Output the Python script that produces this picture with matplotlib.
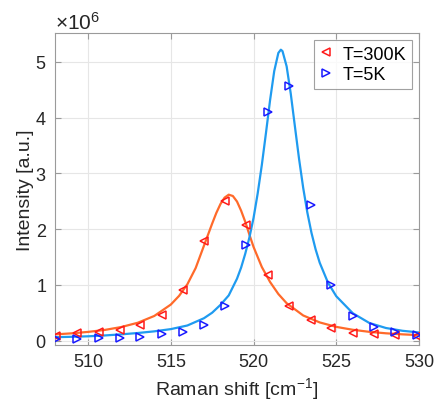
import numpy as np
import matplotlib
matplotlib.use('Agg')
import matplotlib.pyplot as plt
from matplotlib.ticker import ScalarFormatter

plt.rcParams['font.family'] = ['Liberation Sans', 'DejaVu Sans']
plt.rcParams['mathtext.fontset'] = 'custom'
plt.rcParams['mathtext.rm'] = 'Liberation Sans'

# measured points (intensity in units of 1e6)
shift = [508.05, 509.35, 510.65, 511.9, 513.15, 514.45, 515.75, 517.0, 518.25,
         519.55, 520.85, 522.15, 523.45, 524.7, 526.0, 527.3, 528.55, 529.85]
i_300k = [0.08, 0.13, 0.15, 0.19, 0.27, 0.455, 0.91, 1.78, 2.51,
          2.08, 1.17, 0.62, 0.36, 0.23, 0.14, 0.11, 0.095, 0.08]
i_5k = [0.035, 0.035, 0.04, 0.05, 0.07, 0.11, 0.15, 0.27, 0.62,
        1.71, 4.11, 4.57, 2.44, 1.0, 0.44, 0.245, 0.155, 0.095]

# fitted curves
fit_x_300k = [508, 509, 510, 511, 512, 513, 514, 515, 515.5, 516, 516.5, 517,
              517.5, 517.75, 518, 518.25, 518.5, 518.75, 519, 519.25, 519.5,
              519.75, 520, 520.5, 521, 521.5, 522, 523, 524, 525, 526, 527,
              528, 529, 530]
fit_y_300k = [0.110, 0.129, 0.155, 0.190, 0.242, 0.319, 0.441, 0.646, 0.802,
              1.010, 1.300, 1.700, 2.100, 2.290, 2.450, 2.565, 2.618, 2.594,
              2.495, 2.330, 2.130, 1.900, 1.680, 1.320, 1.050, 0.835, 0.670,
              0.450, 0.325, 0.245, 0.193, 0.156, 0.130, 0.111, 0.097]

fit_x_5k = [508, 509, 510, 511, 512, 513, 514, 515, 516, 517, 517.5, 518,
            518.5, 519, 519.25, 519.5, 519.75, 520, 520.25, 520.5, 520.75,
            521, 521.25, 521.5, 521.65, 521.75, 522, 522.25, 522.5, 522.75,
            523, 523.25, 523.5, 523.75, 524, 524.5, 525, 526, 527, 528, 529,
            530]
fit_y_5k = [0.060, 0.067, 0.076, 0.091, 0.111, 0.135, 0.165, 0.205, 0.270,
            0.400, 0.500, 0.640, 0.810, 1.110, 1.310, 1.560, 1.850, 2.200,
            2.640, 3.150, 3.724, 4.316, 4.836, 5.162, 5.220, 5.194, 4.921,
            4.429, 3.843, 3.262, 2.742, 2.300, 1.935, 1.638, 1.396, 1.038,
            0.795, 0.490, 0.315, 0.225, 0.175, 0.145]

fig = plt.figure(figsize=(4.38, 4.06), dpi=100)
ax = fig.add_axes([0.1256, 0.1478, 0.831, 0.7685])

scale = 1e6
ax.plot(fit_x_300k, np.array(fit_y_300k) * scale, color='#ff6a2a', lw=1.6, zorder=2)
ax.plot(fit_x_5k, np.array(fit_y_5k) * scale, color='#1f9bf0', lw=1.6, zorder=2)
ax.plot(shift, np.array(i_300k) * scale, linestyle='none', marker='<', ms=6,
        mfc='none', mec='#ff1a1a', mew=1.1, label='T=300K', zorder=3)
ax.plot(shift, np.array(i_5k) * scale, linestyle='none', marker='>', ms=6,
        mfc='none', mec='#1a1aff', mew=1.1, label='T=5K', zorder=3)

ax.set_xlim(508, 530)
ax.set_ylim(-0.08e6, 5.52e6)
ax.set_xticks([510, 515, 520, 525, 530])
ax.set_yticks(np.arange(0, 6) * scale)

fmt = ScalarFormatter(useMathText=True)
fmt.set_powerlimits((0, 0))
ax.yaxis.set_major_formatter(fmt)
ax.yaxis.get_offset_text().set_fontsize(15)
ax.yaxis.get_offset_text().set_color('#262626')

ax.grid(True, color='#e6e6e6', lw=0.8)
ax.set_axisbelow(True)
for sp in ax.spines.values():
    sp.set_color('#9a9a9a')
    sp.set_linewidth(0.8)
ax.tick_params(direction='in', top=True, right=True, length=4, width=0.8,
               color='#9a9a9a', labelsize=13, labelcolor='#262626', pad=6)

ax.set_xlabel('Raman shift [cm$^{-1}$]', fontsize=14, color='#262626')
ax.set_ylabel('Intensity [a.u.]', fontsize=14, color='#262626', labelpad=1)

leg = ax.legend(loc='upper right', fontsize=13, frameon=True, fancybox=False,
                borderpad=0.3, handlelength=0.8, handletextpad=0.5,
                labelspacing=0.2, borderaxespad=0.4)
leg.get_frame().set_edgecolor('#8a8a8a')
leg.get_frame().set_linewidth(0.8)

fig.savefig('out.png', dpi=100)
